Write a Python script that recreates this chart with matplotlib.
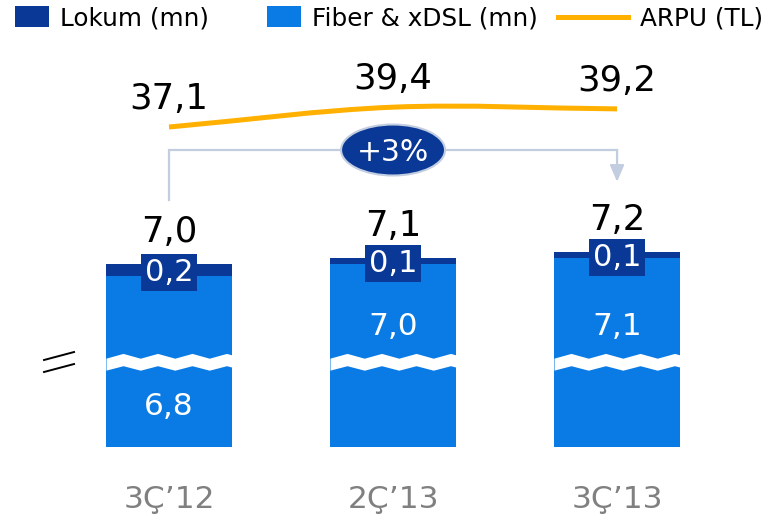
import numpy as np
import matplotlib
matplotlib.use('Agg')
from matplotlib import pyplot as plt
from matplotlib.patches import Ellipse, Patch, PathPatch
from matplotlib.lines import Line2D
from matplotlib.path import Path


periods = ['3Ç’12', '2Ç’13', '3Ç’13']
fiber = [6.8, 7.0, 7.1]
lokum = [0.2, 0.1, 0.1]
arpu = [37.1, 39.4, 39.2]
growth = '+3%'
fiber_label_pos = ['low', 'high', 'high']

LOKUM = '#0A3896'
FIBER = '#0A7BE4'
ARPU = '#FFB000'
BRACKET = '#C3CDE0'
GREY = '#808080'


def fmt(v):
    return f'{v:.1f}'.replace('.', ',')


fig = plt.figure(figsize=(7.77, 5.17), dpi=100)

# bars (axis is broken, so it starts well above zero)
ax = fig.add_axes([0, 70/517, 1, 447/517])
ax.set_xlim(-0.7545, 2.714)
ax.set_ylim(3.95, 3.95 + 447/60)
ax.axis('off')

x = np.arange(len(periods))
w = 0.5625
total = [f + l for f, l in zip(fiber, lokum)]

ax.bar(x, fiber, w, color=FIBER, zorder=2)
ax.bar(x, lokum, w, bottom=fiber, color=LOKUM, zorder=2)

# wavy white break across each bar
brk = 5.35
for xi in x:
    xs = np.linspace(xi - w/2, xi + w/2, 300)
    rel = (xs - (xi - w/2)) * 224
    d = ((rel - 17) / 34.5) % 1
    f = np.abs(d - 0.5) * 2
    ax.fill_between(xs, brk - 0.12 + 0.075*f, brk + 0.08 + 0.08*f,
                    color='white', lw=0, zorder=3)

# little // on the left
ax.plot([-0.558, -0.424], [brk + 0.05, brk + 0.183], color='black', lw=1.4)
ax.plot([-0.558, -0.424], [brk - 0.15, brk - 0.017], color='black', lw=1.4)

for xi, fv, lv, t, pos in zip(x, fiber, lokum, total, fiber_label_pos):
    ypos = brk + 0.47 if pos == 'high' else brk - 0.87
    ax.text(xi, ypos, fmt(fv), color='white', fontsize=22.5,
            ha='center', va='baseline', zorder=4)
    ax.annotate(fmt(lv), (xi, fv + lv/2), xytext=(0, -8), textcoords='offset points',
                color='white', fontsize=22, ha='center', va='baseline', zorder=5,
                bbox=dict(boxstyle='square,pad=0.13', fc=LOKUM, ec='none'))
    ax.annotate(fmt(t), (xi, t), xytext=(0, 16), textcoords='offset points',
                color='black', fontsize=25.5, ha='center', va='baseline', zorder=5)

# growth bracket
top = max(total) + 1.7
ax.plot([x[0], x[0], x[-1]], [total[0] + 1.07, top, top], color=BRACKET, lw=1.6,
        solid_joinstyle='miter', zorder=3)
ax.annotate('', xy=(x[-1], total[-1] + 1.17), xytext=(x[-1], top),
            arrowprops=dict(arrowstyle='-|>,head_length=1.0,head_width=0.43',
                            color=BRACKET, lw=1.6, shrinkA=0, shrinkB=0), zorder=3)
ax.add_patch(Ellipse((x[1], top), 0.464, 0.85, fc=LOKUM, ec=BRACKET, lw=1.5, zorder=4))
ax.annotate(growth, (x[1], top), xytext=(0, -8), textcoords='offset points',
            color='white', fontsize=21.5, ha='center', va='baseline', zorder=5)

for xi, p in zip(x, periods):
    ax.text(xi, -(508 - 447)/447, p, transform=ax.get_xaxis_transform(),
            color=GREY, fontsize=22.5, ha='center', va='baseline')

# ARPU line on its own scale
ax2 = ax.twinx()
ax2.set_ylim(0, 447/8.625)
ax2.axis('off')

P = np.column_stack([x, arpu]).astype(float)
tang = [P[1] - P[0]] + [(P[i+1] - P[i-1]) / 2 for i in range(1, len(P) - 1)] + [P[-1] - P[-2]]
verts = [P[0]]
codes = [Path.MOVETO]
for i in range(len(P) - 1):
    verts += [P[i] + tang[i]/3, P[i+1] - tang[i+1]/3, P[i+1]]
    codes += [Path.CURVE4] * 3
ax2.add_patch(PathPatch(Path(verts, codes), fill=False, ec=ARPU, lw=3.6,
                        capstyle='butt', zorder=3))
for xi, a in zip(x, arpu):
    ax2.annotate(fmt(a), (xi, a), xytext=(0, 13), textcoords='offset points',
                 color='black', fontsize=25.5, ha='center', va='baseline')

# legend, one block per item so the gaps can differ
fs = 17.8
yl = 1 - 18.5/517
fig.legend(handles=[Patch(fc=LOKUM)], labels=['Lokum (mn)'], loc='center left',
           bbox_to_anchor=(15/777, yl), fontsize=fs, frameon=False, borderpad=0,
           borderaxespad=0, handlelength=1.38, handleheight=0.93, handletextpad=0.45)
fig.legend(handles=[Patch(fc=FIBER)], labels=['Fiber & xDSL (mn)'], loc='center left',
           bbox_to_anchor=(267/777, yl), fontsize=fs, frameon=False, borderpad=0,
           borderaxespad=0, handlelength=1.38, handleheight=0.93, handletextpad=0.45)
fig.legend(handles=[Line2D([], [], color=ARPU, lw=3.6)], labels=['ARPU (TL)'],
           loc='center left', bbox_to_anchor=(558/777, yl), fontsize=fs, frameon=False,
           borderpad=0, borderaxespad=0, handlelength=2.83, handletextpad=0.49)

fig.savefig('out.png', dpi=100)
